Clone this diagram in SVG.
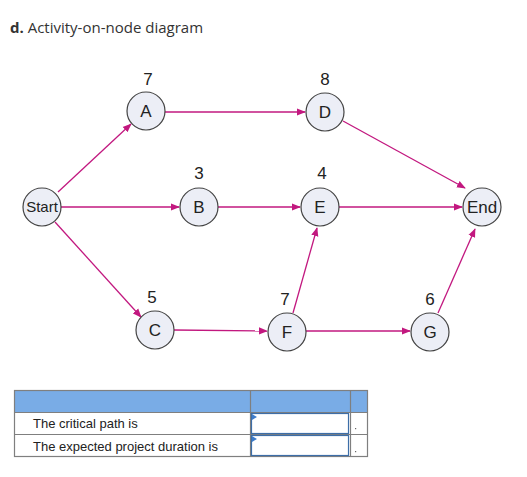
<svg xmlns="http://www.w3.org/2000/svg" width="527" height="477" viewBox="0 0 527 477">
<style>
.node circle{fill:#eceef6;stroke:#444;stroke-width:1.2}
.node text{font-family:"Liberation Sans",Arial,sans-serif;font-size:17px;fill:#222;text-anchor:middle}
.node text.sm{font-size:15px}
.node text.lg{font-size:17px}
.dur{font-family:"Liberation Sans",Arial,sans-serif;font-size:17px;fill:#222;text-anchor:middle}
.conn line{stroke:#c2187f;stroke-width:1.3;marker-end:url(#ah)}
.tt{font-family:"Liberation Sans",Arial,sans-serif;font-size:13px;fill:#222}
</style>
<defs>
<marker id="ah" viewBox="0 0 10 10" refX="9" refY="5" markerWidth="9" markerHeight="9" markerUnits="userSpaceOnUse" orient="auto">
<path d="M0,1 L10,5 L0,9 z" fill="#c2187f"/>
</marker>
</defs>
<rect width="527" height="477" fill="#fff"/>
<text x="10" y="33" font-family="Open Sans,Liberation Sans,sans-serif" font-size="15" fill="#333"><tspan font-weight="bold">d.</tspan> Activity-on-node diagram</text>
<g class="conn">
<line x1="58" y1="192" x2="131" y2="124"/>
<line x1="61" y1="207" x2="179" y2="207"/>
<line x1="55" y1="222" x2="141" y2="317"/>
<line x1="165" y1="112" x2="305" y2="112"/>
<line x1="218" y1="207" x2="300" y2="207"/>
<line x1="343" y1="121" x2="465" y2="188"/>
<line x1="339" y1="207" x2="462" y2="207"/>
<line x1="174" y1="330" x2="267" y2="331"/>
<line x1="293" y1="313" x2="317" y2="228"/>
<line x1="306" y1="331" x2="410" y2="331"/>
<line x1="438" y1="313" x2="475" y2="229"/>
</g>
<g id="start" class="node"><circle cx="42" cy="207" r="19"/><text class="sm" x="42" y="212">Start</text></g>
<g id="A" class="node"><circle cx="146" cy="111" r="19"/><text x="146" y="117">A</text></g>
<g id="D" class="node"><circle cx="325" cy="112" r="19"/><text x="325" y="118">D</text></g>
<g id="B" class="node"><circle cx="199" cy="207" r="19"/><text x="199" y="213">B</text></g>
<g id="E" class="node"><circle cx="320" cy="207" r="19"/><text x="320" y="213">E</text></g>
<g id="end" class="node"><circle cx="482" cy="207" r="19"/><text class="lg" x="482" y="213">End</text></g>
<g id="C" class="node"><circle cx="155" cy="330" r="19"/><text x="155" y="336">C</text></g>
<g id="F" class="node"><circle cx="287" cy="332" r="19"/><text x="287" y="338">F</text></g>
<g id="G" class="node"><circle cx="430" cy="332" r="19"/><text x="430" y="338">G</text></g>
<text class="dur" x="148" y="85">7</text>
<text class="dur" x="325" y="85">8</text>
<text class="dur" x="199" y="179">3</text>
<text class="dur" x="322" y="179">4</text>
<text class="dur" x="152" y="303">5</text>
<text class="dur" x="285" y="305">7</text>
<text class="dur" x="430" y="305">6</text>
<g id="table">
<rect x="14.5" y="390.5" width="353" height="22" fill="#79ace6"/>
<rect x="14.5" y="390.5" width="353" height="66" fill="none" stroke="#7f7f7f" stroke-width="1.2"/>
<line x1="14.5" y1="412.5" x2="367.5" y2="412.5" stroke="#7f7f7f" stroke-width="1.2"/>
<line x1="14.5" y1="434.5" x2="367.5" y2="434.5" stroke="#7f7f7f" stroke-width="1.2"/>
<line x1="250.5" y1="390.5" x2="250.5" y2="456.5" stroke="#7f7f7f" stroke-width="1.2"/>
<line x1="350.5" y1="390.5" x2="350.5" y2="456.5" stroke="#7f7f7f" stroke-width="1.2"/>
<rect x="251.5" y="413.5" width="97" height="20" fill="#fff" stroke="#3d6ea8" stroke-width="1.2"/>
<rect x="251.5" y="435.5" width="97" height="20" fill="#fff" stroke="#3d6ea8" stroke-width="1.2"/>
<path d="M252,414 L257,417 L252,420 z" fill="#3d7ccb"/>
<path d="M252,436 L257,439 L252,442 z" fill="#3d7ccb"/>
<text class="tt" x="33" y="428">The critical path is</text>
<text class="tt" x="33" y="451">The expected project duration is</text>
<rect x="355" y="428" width="1.2" height="1.2" fill="#666"/>
<rect x="355" y="451" width="1.2" height="1.2" fill="#666"/>
</g>
</svg>
